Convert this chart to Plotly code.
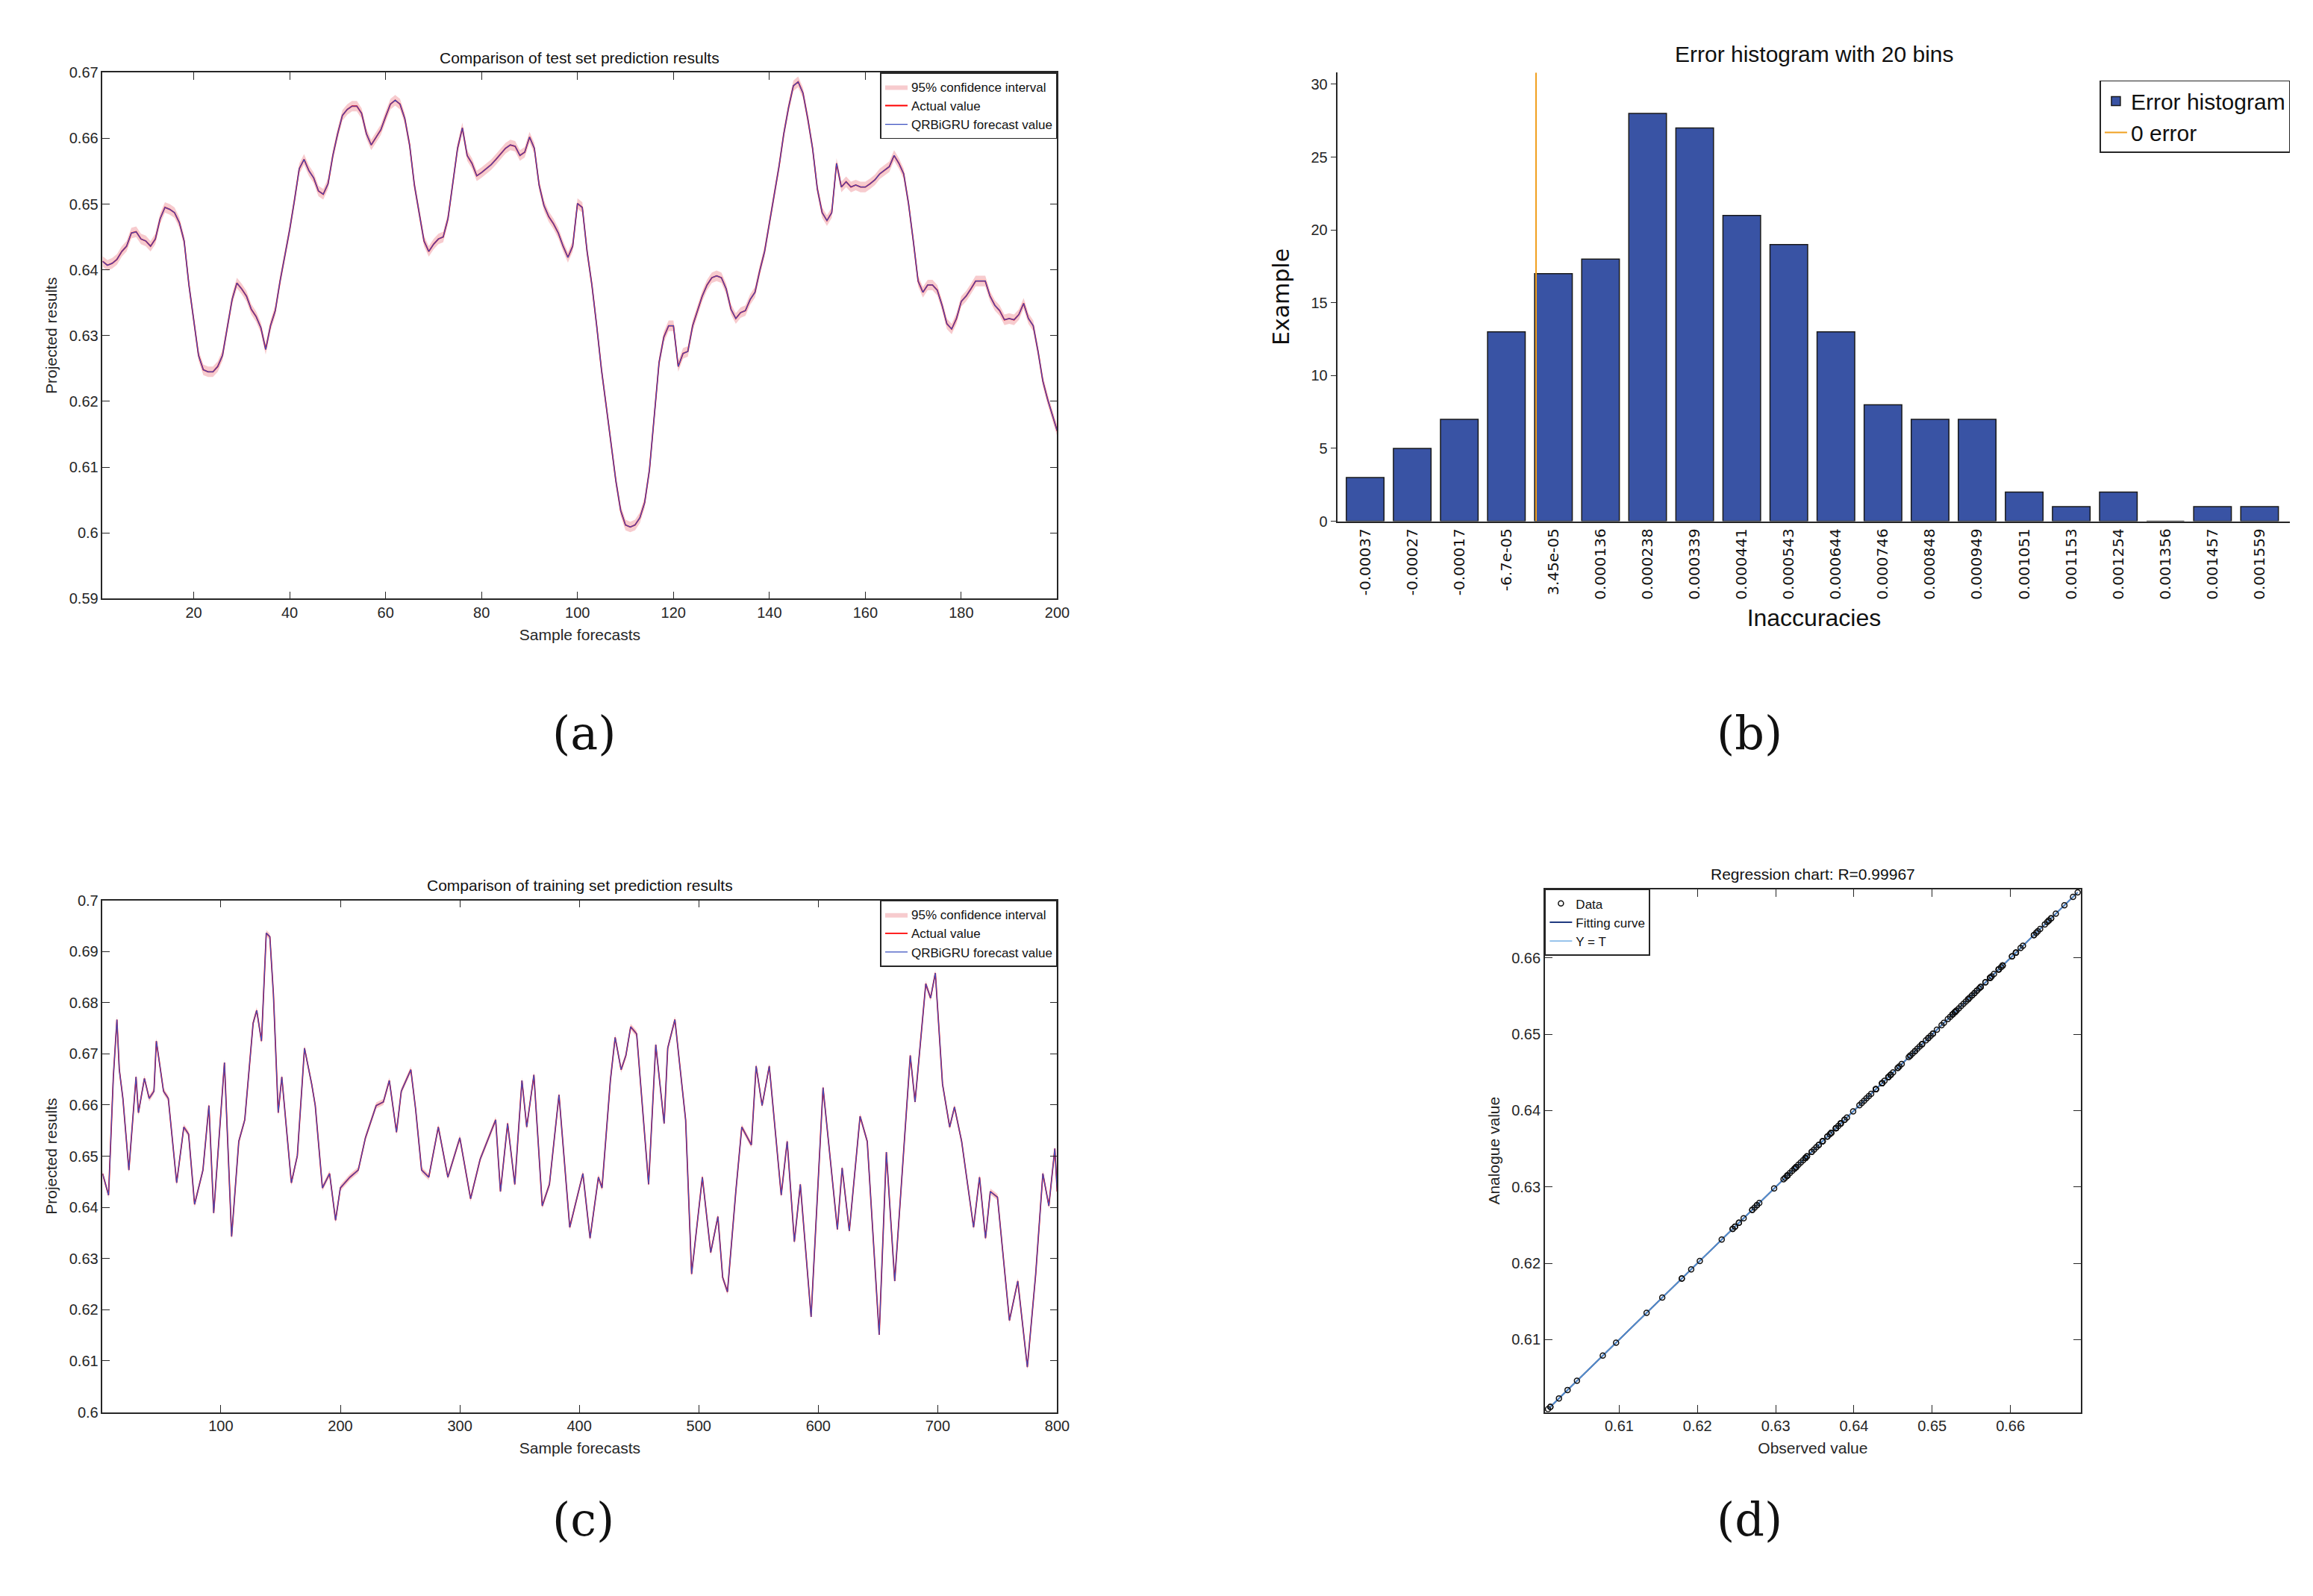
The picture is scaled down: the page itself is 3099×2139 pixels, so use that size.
import plotly.graph_objects as go

# ---- data ----
test_samples = list(range(1, 201))
actual_test = [
    0.6413, 0.6407, 0.6410, 0.6416, 0.6428, 0.6436, 0.6456, 0.6458, 0.6447, 0.6444,
    0.6436, 0.6447, 0.6478, 0.6495, 0.6492, 0.6487, 0.6472, 0.6444, 0.6377, 0.6321,
    0.6270, 0.6248, 0.6245, 0.6245, 0.6253, 0.6270, 0.6315, 0.6355, 0.6380, 0.6371,
    0.6360, 0.6340, 0.6329, 0.6312, 0.6279, 0.6315, 0.6338, 0.6383, 0.6422, 0.6461,
    0.6506, 0.6554, 0.6568, 0.6551, 0.6540, 0.6520, 0.6515, 0.6531, 0.6574, 0.6607,
    0.6635, 0.6644, 0.6649, 0.6649, 0.6638, 0.6607, 0.6590, 0.6602, 0.6613, 0.6633,
    0.6652, 0.6658, 0.6652, 0.6630, 0.6590, 0.6529, 0.6484, 0.6444, 0.6428, 0.6439,
    0.6447, 0.6450, 0.6478, 0.6529, 0.6585, 0.6616, 0.6574, 0.6562, 0.6543, 0.6548,
    0.6554, 0.6560, 0.6568, 0.6576, 0.6585, 0.6590, 0.6588, 0.6574, 0.6579, 0.6602,
    0.6585, 0.6529, 0.6498, 0.6481, 0.6470, 0.6456, 0.6436, 0.6419, 0.6436, 0.6501,
    0.6495, 0.6428, 0.6377, 0.6315, 0.6248, 0.6192, 0.6135, 0.6079, 0.6034, 0.6012,
    0.6009, 0.6012, 0.6023, 0.6046, 0.6096, 0.6180, 0.6259, 0.6298, 0.6315, 0.6315,
    0.6253, 0.6273, 0.6276, 0.6315, 0.6338, 0.6360, 0.6377, 0.6388, 0.6391, 0.6388,
    0.6371, 0.6340, 0.6326, 0.6335, 0.6338, 0.6355, 0.6366, 0.6399, 0.6428, 0.6472,
    0.6512, 0.6557, 0.6607, 0.6647, 0.6680, 0.6686, 0.6669, 0.6630, 0.6585, 0.6523,
    0.6487, 0.6475, 0.6487, 0.6562, 0.6526, 0.6534, 0.6526, 0.6529, 0.6526, 0.6526,
    0.6531, 0.6537, 0.6546, 0.6551, 0.6557, 0.6574, 0.6562, 0.6546, 0.6501, 0.6444,
    0.6383, 0.6366, 0.6377, 0.6377, 0.6369, 0.6346, 0.6318, 0.6310, 0.6326, 0.6352,
    0.6360, 0.6371, 0.6383, 0.6383, 0.6383, 0.6360, 0.6346, 0.6338, 0.6324, 0.6326,
    0.6324, 0.6332, 0.6349, 0.6326, 0.6315, 0.6276, 0.6231, 0.6203, 0.6180, 0.6155,
]
forecast_test = list(actual_test)
ci_half_test = 0.0008

train_samples = [
    1, 6, 10, 13, 15, 18, 23, 29, 31, 36, 40, 44, 46, 52, 56, 63, 69, 73, 78, 85,
    90, 94, 103, 109, 115, 120, 127, 130, 134, 138, 141, 144, 148, 151, 159, 164, 170, 176, 179, 185,
    191, 196, 200, 208, 215, 221, 230, 236, 241, 247, 251, 259, 263, 268, 274, 282, 290, 300, 309, 317,
    330, 334, 340, 346, 352, 356, 362, 369, 375, 383, 392, 403, 409, 416, 419, 426, 430, 435, 439, 443,
    448, 458, 464, 471, 474, 480, 489, 494, 498, 503, 510, 516, 520, 524, 531, 536, 544, 548, 553, 559,
    569, 574, 580, 585, 594, 604, 616, 620, 626, 635, 641, 651, 657, 664, 677, 681, 690, 694, 698, 704,
    710, 714, 720, 730, 735, 740, 744, 750, 760, 767, 775, 782, 788, 793, 798, 800,
]
actual_train = [
    0.6466, 0.6424, 0.6655, 0.6767, 0.6669, 0.6613, 0.6473, 0.6655, 0.6585, 0.6652,
    0.6613, 0.6627, 0.6725, 0.6627, 0.6613, 0.6448, 0.6557, 0.6543, 0.6406, 0.6473,
    0.6599, 0.6389, 0.6683, 0.6343, 0.6529, 0.6571, 0.6760, 0.6785, 0.6725, 0.6936,
    0.6929, 0.6816, 0.6585, 0.6655, 0.6448, 0.6501, 0.6711, 0.6641, 0.6599, 0.6438,
    0.6466, 0.6375, 0.6438, 0.6459, 0.6473, 0.6536, 0.6599, 0.6606, 0.6648, 0.6547,
    0.6627, 0.6669, 0.6592, 0.6473, 0.6459, 0.6557, 0.6459, 0.6536, 0.6417, 0.6494,
    0.6571, 0.6431, 0.6564, 0.6445, 0.6648, 0.6557, 0.6659, 0.6403, 0.6445, 0.6620,
    0.6361, 0.6466, 0.6340, 0.6459, 0.6438, 0.6648, 0.6732, 0.6669, 0.6697, 0.6753,
    0.6739, 0.6445, 0.6718, 0.6564, 0.6711, 0.6767, 0.6571, 0.6270, 0.6354, 0.6459,
    0.6312, 0.6382, 0.6263, 0.6235, 0.6431, 0.6557, 0.6522, 0.6676, 0.6599, 0.6676,
    0.6424, 0.6529, 0.6333, 0.6445, 0.6186, 0.6634, 0.6357, 0.6477, 0.6354, 0.6578,
    0.6529, 0.6151, 0.6508, 0.6256, 0.6697, 0.6606, 0.6837, 0.6809, 0.6858, 0.6641,
    0.6557, 0.6596, 0.6529, 0.6361, 0.6459, 0.6340, 0.6431, 0.6420, 0.6179, 0.6256,
    0.6088, 0.6270, 0.6466, 0.6403, 0.6515, 0.6431,
]
forecast_train = list(actual_train)
ci_half_train = 0.0006

hist_counts = [3, 5, 7, 13, 17, 18, 28, 27, 21, 19, 13, 8, 7, 7, 2, 1, 2, 0, 1, 1]
hist_labels = ['-0.00037', '-0.00027', '-0.00017', '-6.7e-05', '3.45e-05', '0.000136',
               '0.000238', '0.000339', '0.000441', '0.000543', '0.000644', '0.000746',
               '0.000848', '0.000949', '0.001051', '0.001153', '0.001254', '0.001356',
               '0.001457', '0.001559']
zero_error_pos = 4.63

a_yticks = [0.59, 0.60, 0.61, 0.62, 0.63, 0.64, 0.65, 0.66, 0.67]
a_yticktext = ['0.59', '0.6', '0.61', '0.62', '0.63', '0.64', '0.65', '0.66', '0.67']
c_yticks = [0.60, 0.61, 0.62, 0.63, 0.64, 0.65, 0.66, 0.67, 0.68, 0.69, 0.70]
c_yticktext = ['0.6', '0.61', '0.62', '0.63', '0.64', '0.65', '0.66', '0.67', '0.68', '0.69', '0.7']
d_ticks = [0.61, 0.62, 0.63, 0.64, 0.65, 0.66]

AX = '#262626'
FONT = 'Liberation Sans'

fig = go.Figure()

# (a) test set
fig.add_trace(go.Scatter(x=test_samples, y=[v - ci_half_test for v in actual_test], mode='lines',
                         line=dict(width=0), showlegend=False, hoverinfo='skip', xaxis='x', yaxis='y'))
fig.add_trace(go.Scatter(x=test_samples, y=[v + ci_half_test for v in actual_test], mode='lines',
                         line=dict(width=0), fill='tonexty', fillcolor='rgba(240,160,165,0.55)',
                         name='95% confidence interval', legend='legend', xaxis='x', yaxis='y'))
fig.add_trace(go.Scatter(x=test_samples, y=actual_test, mode='lines', line=dict(color='#ff0000', width=1.8),
                         name='Actual value', legend='legend', xaxis='x', yaxis='y'))
fig.add_trace(go.Scatter(x=test_samples, y=forecast_test, mode='lines', line=dict(color='#3a4fc0', width=1.2),
                         name='QRBiGRU forecast value', legend='legend', xaxis='x', yaxis='y'))

# (c) training set
fig.add_trace(go.Scatter(x=train_samples, y=[v - ci_half_train for v in actual_train], mode='lines',
                         line=dict(width=0), showlegend=False, hoverinfo='skip', xaxis='x3', yaxis='y3'))
fig.add_trace(go.Scatter(x=train_samples, y=[v + ci_half_train for v in actual_train], mode='lines',
                         line=dict(width=0), fill='tonexty', fillcolor='rgba(240,160,165,0.55)',
                         name='95% confidence interval', legend='legend3', xaxis='x3', yaxis='y3'))
fig.add_trace(go.Scatter(x=train_samples, y=actual_train, mode='lines', line=dict(color='#ff0000', width=1.8),
                         name='Actual value', legend='legend3', xaxis='x3', yaxis='y3'))
fig.add_trace(go.Scatter(x=train_samples, y=forecast_train, mode='lines', line=dict(color='#3a4fc0', width=1.2),
                         name='QRBiGRU forecast value', legend='legend3', xaxis='x3', yaxis='y3'))

# (b) histogram
fig.add_trace(go.Bar(x=list(range(1, 21)), y=hist_counts, width=0.8, marker_color='#3953a4',
                     marker_line=dict(color='#1a1a1a', width=1.5), name='Error histogram',
                     legend='legend2', xaxis='x2', yaxis='y2'))
fig.add_trace(go.Scatter(x=[zero_error_pos, zero_error_pos], y=[0, 30.8], mode='lines',
                         line=dict(color='#f0a020', width=2), name='0 error',
                         legend='legend2', xaxis='x2', yaxis='y2'))

# (d) regression: lines first, points on top, legend order kept by rank
lo, hi = min(actual_test), max(actual_test)
fig.add_trace(go.Scatter(x=[lo, hi], y=[lo, hi], mode='lines', line=dict(color='#1f3a80', width=2),
                         name='Fitting curve', legend='legend4', legendrank=2, xaxis='x4', yaxis='y4'))
fig.add_trace(go.Scatter(x=[lo, hi], y=[lo, hi], mode='lines', line=dict(color='#5aa0e0', width=1.2),
                         name='Y = T', legend='legend4', legendrank=3, xaxis='x4', yaxis='y4'))
fig.add_trace(go.Scatter(x=actual_test, y=forecast_test, mode='markers',
                         marker=dict(symbol='circle-open', size=7, color='#111111', line=dict(width=1.5)),
                         name='Data', legend='legend4', legendrank=1, xaxis='x4', yaxis='y4'))


def box_axis(domain, anchor, **kw):
    d = dict(domain=domain, anchor=anchor, showline=True, linecolor=AX, linewidth=1.5, mirror='ticks',
             ticks='inside', ticklen=10, tickcolor=AX, showgrid=False, zeroline=False,
             tickfont=dict(family=FONT, size=20, color=AX), title_font=dict(family=FONT, size=21, color=AX))
    d.update(kw)
    return d


leg_small = dict(font=dict(family=FONT, size=17, color='#111'), bgcolor='white', bordercolor=AX,
                 borderwidth=1.5, xanchor='right', yanchor='top', tracegroupgap=0, itemwidth=30,
                 traceorder='normal')

fig.update_layout(
    width=3099, height=2139, margin=dict(l=0, r=0, t=0, b=0),
    paper_bgcolor='white', plot_bgcolor='white',
    xaxis=box_axis([0.042, 0.457], 'y', range=[1, 200], tickvals=[20, 40, 60, 80, 100, 120, 140, 160, 180, 200],
                   title=dict(text='Sample forecasts', standoff=12)),
    yaxis=box_axis([0.630, 0.963], 'x', range=[0.59, 0.67], tickvals=a_yticks, ticktext=a_yticktext,
                   title=dict(text='Projected results', standoff=10)),
    xaxis3=box_axis([0.042, 0.457], 'y3', range=[1, 800], tickvals=[100, 200, 300, 400, 500, 600, 700, 800],
                    title=dict(text='Sample forecasts', standoff=12)),
    yaxis3=box_axis([0.115, 0.439], 'x3', range=[0.60, 0.70], tickvals=c_yticks, ticktext=c_yticktext,
                    title=dict(text='Projected results', standoff=10)),
    xaxis4=box_axis([0.669, 0.902], 'y4', range=[0.6005, 0.669], tickvals=d_ticks,
                    title=dict(text='Observed value', standoff=12)),
    yaxis4=box_axis([0.115, 0.446], 'x4', range=[0.6005, 0.669], tickvals=d_ticks,
                    title=dict(text='Analogue value', standoff=10)),
    xaxis2=dict(domain=[0.579, 0.993], anchor='y2', range=[0.42, 20.65], tickvals=list(range(1, 21)),
                ticktext=hist_labels, tickangle=-90, showline=True, linecolor=AX, linewidth=1.5,
                ticks='', showgrid=False, zeroline=False,
                tickfont=dict(family='DejaVu Sans', size=20, color='#111'),
                title=dict(text='Inaccuracies', font=dict(family=FONT, size=32, color='#111'), standoff=14)),
    yaxis2=dict(domain=[0.679, 0.963], anchor='x2', range=[0, 30.8], tickvals=[0, 5, 10, 15, 20, 25, 30],
                showline=True, linecolor=AX, linewidth=1.5, ticks='outside', ticklen=8, tickcolor=AX,
                showgrid=False, zeroline=False, tickfont=dict(family=FONT, size=20, color=AX),
                title=dict(text='Example', font=dict(family='DejaVu Sans', size=30, color='#111'), standoff=20)),
    legend=dict(leg_small, x=0.457, y=0.963),
    legend3=dict(leg_small, x=0.457, y=0.439),
    legend4=dict(leg_small, x=0.669, y=0.446, xanchor='left'),
    legend2=dict(font=dict(family=FONT, size=30, color='#111'), bgcolor='white', bordercolor=AX, borderwidth=1.5,
                 x=0.993, y=0.958, xanchor='right', yanchor='top', tracegroupgap=0, itemwidth=30,
                 traceorder='normal'),
)

titles = [
    ('Comparison of test set prediction results', 0.2495, 0.966, 21),
    ('Error histogram with 20 bins', 0.786, 0.966, 30),
    ('Comparison of training set prediction results', 0.2495, 0.442, 21),
    ('Regression chart: R=0.99967', 0.7855, 0.449, 21),
]
for text, x, y, size in titles:
    fig.add_annotation(text=text, x=x, y=y, xref='paper', yref='paper', xanchor='center', yanchor='bottom',
                       showarrow=False, font=dict(family=FONT, size=size, color='#111'))

panel_labels = [('(a)', 0.237, 0.545), ('(b)', 0.773, 0.545), ('(c)', 0.237, 0.029), ('(d)', 0.773, 0.029)]
for text, x, y in panel_labels:
    fig.add_annotation(text=text, x=x, y=y, xref='paper', yref='paper', showarrow=False,
                       font=dict(family='DejaVu Serif', size=62, color='#111'))

fig.write_html('out.html')
